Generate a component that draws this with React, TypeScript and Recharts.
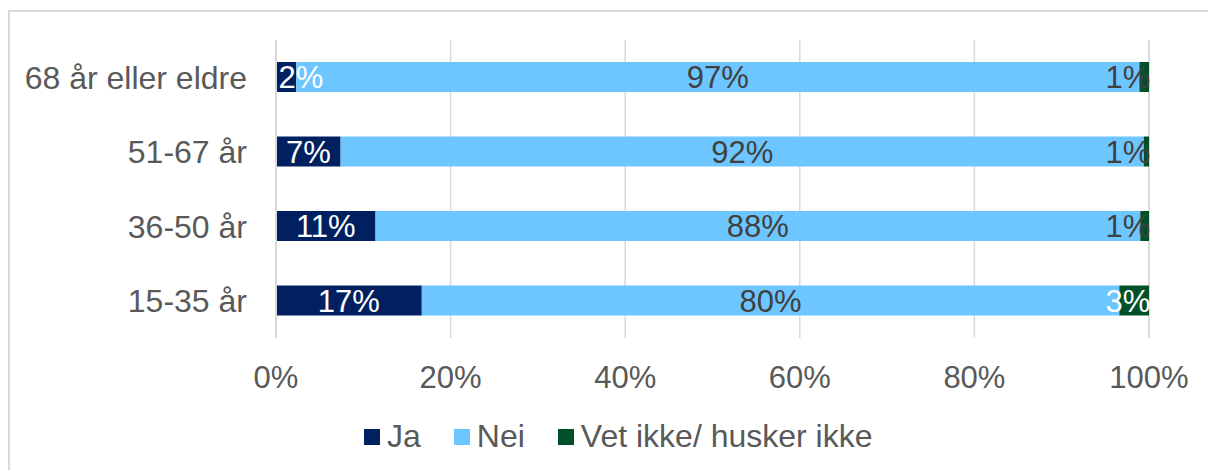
import React from 'react';
import {
    BarChart,
    Bar,
    XAxis,
    YAxis,
    CartesianGrid,
    Legend,
    LabelList
} from 'recharts';

// Age groups, top to bottom as drawn
const groups = ['68 år eller eldre', '51-67 år', '36-50 år', '15-35 år'];

// Shares in percent
const ja = [2.3, 7.4, 11.4, 16.7];
const nei = [96.6, 92.0, 87.6, 79.9];
const vetIkke = [1.1, 0.6, 1.0, 3.4];

const xTicks = [0, 20, 40, 60, 80, 100];

const seriesNames = ['Ja', 'Nei', 'Vet ikke/ husker ikke'];
const seriesColors = ['#002060', '#6DC6FF', '#00502A'];

const data = groups.map((group, i) => ({
    group,
    ja: ja[i],
    nei: nei[i],
    vet: vetIkke[i]
}));

const FONT = '"Liberation Sans", Arial, sans-serif';
const TEXT = '#595959';
const GRID = '#d9d9d9';
const PLOT_LEFT = 276;
const PLOT_RIGHT = 1149;

const pct = (v: number) => `${Math.round(v)}%`;

// Excel pushes labels of thin segments back inside the plot area
function JaLabel(props: any) {
    const { x, y, width, height, value } = props;
    const cx = Math.max(x + width / 2, PLOT_LEFT + 25);
    return (
        <text x={cx} y={y + height / 2} dy="0.36em" textAnchor="middle" fill="#fff" fontSize={31} fontFamily={FONT}>
            {pct(value)}
        </text>
    );
}

function VetLabel(props: any) {
    const { x, y, width, height, value } = props;
    const cx = Math.min(x + width / 2, PLOT_RIGHT - 21);
    return (
        <text x={cx} y={y + height / 2} dy="0.36em" textAnchor="middle" fill={value >= 2 ? '#fff' : '#404040'} fontSize={31} fontFamily={FONT}>
            {pct(value)}
        </text>
    );
}

function LegendContent() {
    return (
        <div style={{ display: 'flex', alignItems: 'center', fontFamily: FONT, fontSize: 32, color: TEXT }}>
            {seriesNames.map((name, i) => (
                <div key={name} style={{ display: 'flex', alignItems: 'center', marginRight: i < seriesNames.length - 1 ? 33 : 0 }}>
                    <span style={{ width: 16, height: 16, background: seriesColors[i], marginRight: 7, display: 'inline-block' }} />
                    <span>{name}</span>
                </div>
            ))}
        </div>
    );
}

export default function App() {
    return (
        <div style={{ position: 'absolute', left: 0, top: 0, width: 1208, height: 470, background: '#fff', overflow: 'hidden', fontFamily: FONT }}>
            {/* frame of the chart box */}
            <div style={{ position: 'absolute', left: 8, top: 10, width: 1220, height: 480, borderTop: `2px solid ${GRID}`, borderLeft: `2px solid ${GRID}` }} />

            <div style={{ position: 'absolute', left: 0, top: 0 }}>
                <BarChart
                    width={1208}
                    height={470}
                    data={data}
                    layout="vertical"
                    margin={{ top: 40, right: 59, bottom: 82, left: 0 }}
                    barSize={30}
                >
                    <CartesianGrid horizontal={false} stroke={GRID} strokeWidth={1.5} />
                    <XAxis
                        type="number"
                        domain={[0, 100]}
                        ticks={xTicks}
                        tickFormatter={(v: number) => `${v}%`}
                        axisLine={false}
                        tickLine={false}
                        tickMargin={22}
                        height={50}
                        tick={{ fill: TEXT, fontSize: 31, fontFamily: FONT }}
                    />
                    <YAxis
                        type="category"
                        dataKey="group"
                        width={PLOT_LEFT}
                        axisLine={{ stroke: GRID, strokeWidth: 2 }}
                        tickLine={false}
                        tickMargin={23}
                        tick={{ fill: TEXT, fontSize: 32, fontFamily: FONT }}
                    />
                    <Legend
                        layout="horizontal"
                        verticalAlign="middle"
                        content={<LegendContent />}
                        wrapperStyle={{ left: 364, top: 418, width: 760 }}
                    />
                    <Bar dataKey="ja" name={seriesNames[0]} stackId="a" fill={seriesColors[0]} isAnimationActive={false}>
                        <LabelList dataKey="ja" content={<JaLabel />} />
                    </Bar>
                    <Bar dataKey="nei" name={seriesNames[1]} stackId="a" fill={seriesColors[1]} isAnimationActive={false}>
                        <LabelList
                            dataKey="nei"
                            position="center"
                            formatter={(v: any) => pct(Number(v))}
                            fill="#404040"
                            fontSize={31}
                            fontFamily={FONT}
                        />
                    </Bar>
                    <Bar dataKey="vet" name={seriesNames[2]} stackId="a" fill={seriesColors[2]} isAnimationActive={false}>
                        <LabelList dataKey="vet" content={<VetLabel />} />
                    </Bar>
                </BarChart>
            </div>
        </div>
    );
}
